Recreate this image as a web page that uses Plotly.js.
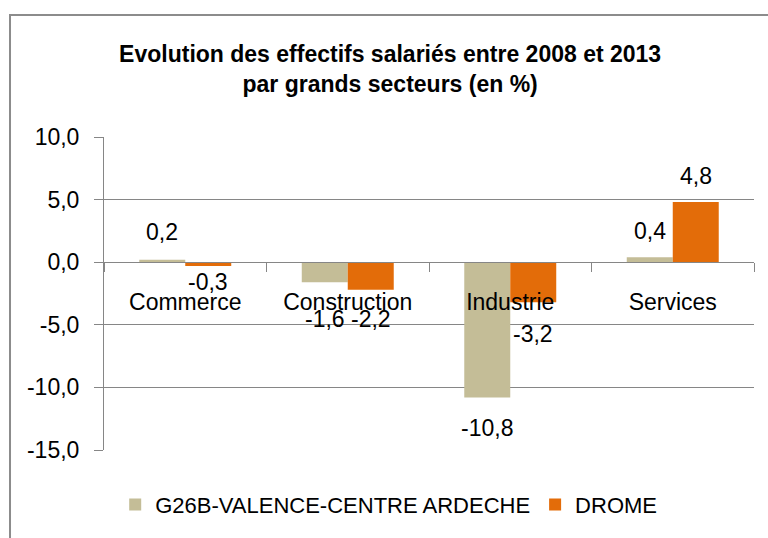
<!DOCTYPE html>
<html>
<head>
<meta charset="utf-8">
<script src="https://cdn.plot.ly/plotly-3.0.1.min.js"></script>
<style>
  html, body { margin: 0; padding: 0; background: #ffffff; }
  #chart { width: 768px; height: 538px; }
</style>
</head>
<body>
<div id="chart"></div>
<script>
// ---- Data ----
const categories = ['Commerce', 'Construction', 'Industrie', 'Services'];
const seriesNames = ['G26B-VALENCE-CENTRE ARDECHE', 'DROME'];
const g26bValues = [0.2, -1.6, -10.8, 0.4];
const dromeValues = [-0.3, -2.2, -3.2, 4.8];
const yTickValues = [-15, -10, -5, 0, 5, 10];
const titleText = 'Evolution des effectifs salariés entre 2008 et 2013<br>par grands secteurs (en %)';

// ---- Style ----
const FONT = 'Liberation Sans, Arial, sans-serif';
const colors = ['#C4BD97', '#E36C09'];
const gridColor = '#868686';
// vertical offset of each data label (px) from its bar end, per series
const labelShifts = [
  [28, -37, -31, 26],
  [-16, -29, -32, 26]
];
const barOffsetPx = 23;

const fmt = v => v.toFixed(1).replace('.', ',');

const seriesValues = [g26bValues, dromeValues];

const traces = seriesValues.map((vals, i) => ({
  type: 'bar',
  name: seriesNames[i],
  x: categories,
  y: vals,
  marker: { color: colors[i], line: { width: 0 } },
  hoverinfo: 'skip'
}));

const annotations = [];
seriesValues.forEach((vals, i) => {
  vals.forEach((v, j) => {
    annotations.push({
      x: categories[j],
      y: v,
      xref: 'x', yref: 'y',
      text: fmt(v),
      showarrow: false,
      xshift: (i === 0 ? -1 : 1) * barOffsetPx,
      yshift: labelShifts[i][j],
      xanchor: 'center', yanchor: 'middle',
      font: { family: FONT, size: 23, color: '#000000' }
    });
  });
});

const layout = {
  width: 768,
  height: 538,
  margin: { l: 104, r: 14, t: 137, b: 86 },
  paper_bgcolor: '#ffffff',
  plot_bgcolor: '#ffffff',
  separators: ', ',
  showlegend: true,
  title: {
    text: titleText,
    font: { family: FONT, size: 23, color: '#000000', weight: 'bold' },
    xref: 'container', x: 0.508, xanchor: 'center',
    yref: 'container', y: 0.885, yanchor: 'top'
  },
  barmode: 'group',
  bargap: 0.434,
  bargroupgap: 0,
  xaxis: {
    type: 'category',
    anchor: 'free',
    position: 0.6,
    showline: true,
    linecolor: gridColor,
    linewidth: 1,
    ticks: 'outside',
    tickson: 'boundaries',
    ticklen: 9,
    tickcolor: gridColor,
    ticklabelstandoff: 19,
    showgrid: false,
    zeroline: false,
    tickfont: { family: FONT, size: 23, color: '#000000' },
    fixedrange: true
  },
  yaxis: {
    range: [-15, 10],
    tickvals: yTickValues,
    ticktext: yTickValues.map(fmt),
    showline: true,
    linecolor: gridColor,
    linewidth: 1,
    ticks: 'outside',
    ticklen: 9,
    tickcolor: gridColor,
    ticklabelstandoff: 10,
    showgrid: true,
    gridcolor: gridColor,
    gridwidth: 1,
    zeroline: false,
    tickfont: { family: FONT, size: 23, color: '#000000' },
    fixedrange: true
  },
  legend: {
    orientation: 'h',
    x: 0.438, xanchor: 'center',
    y: -0.175, yanchor: 'middle',
    font: { family: FONT, size: 22, color: '#000000' },
    bgcolor: 'rgba(0,0,0,0)'
  },
  annotations: annotations,
  shapes: [{
    type: 'rect',
    xref: 'paper', yref: 'paper',
    x0: -0.1446, x1: 1.3,
    y0: -0.5, y1: 1.39,
    line: { color: '#8c8c8c', width: 2 },
    fillcolor: 'rgba(0,0,0,0)',
    layer: 'below'
  }]
};

Plotly.newPlot('chart', traces, layout, { displayModeBar: false, staticPlot: true });
</script>
</body>
</html>
